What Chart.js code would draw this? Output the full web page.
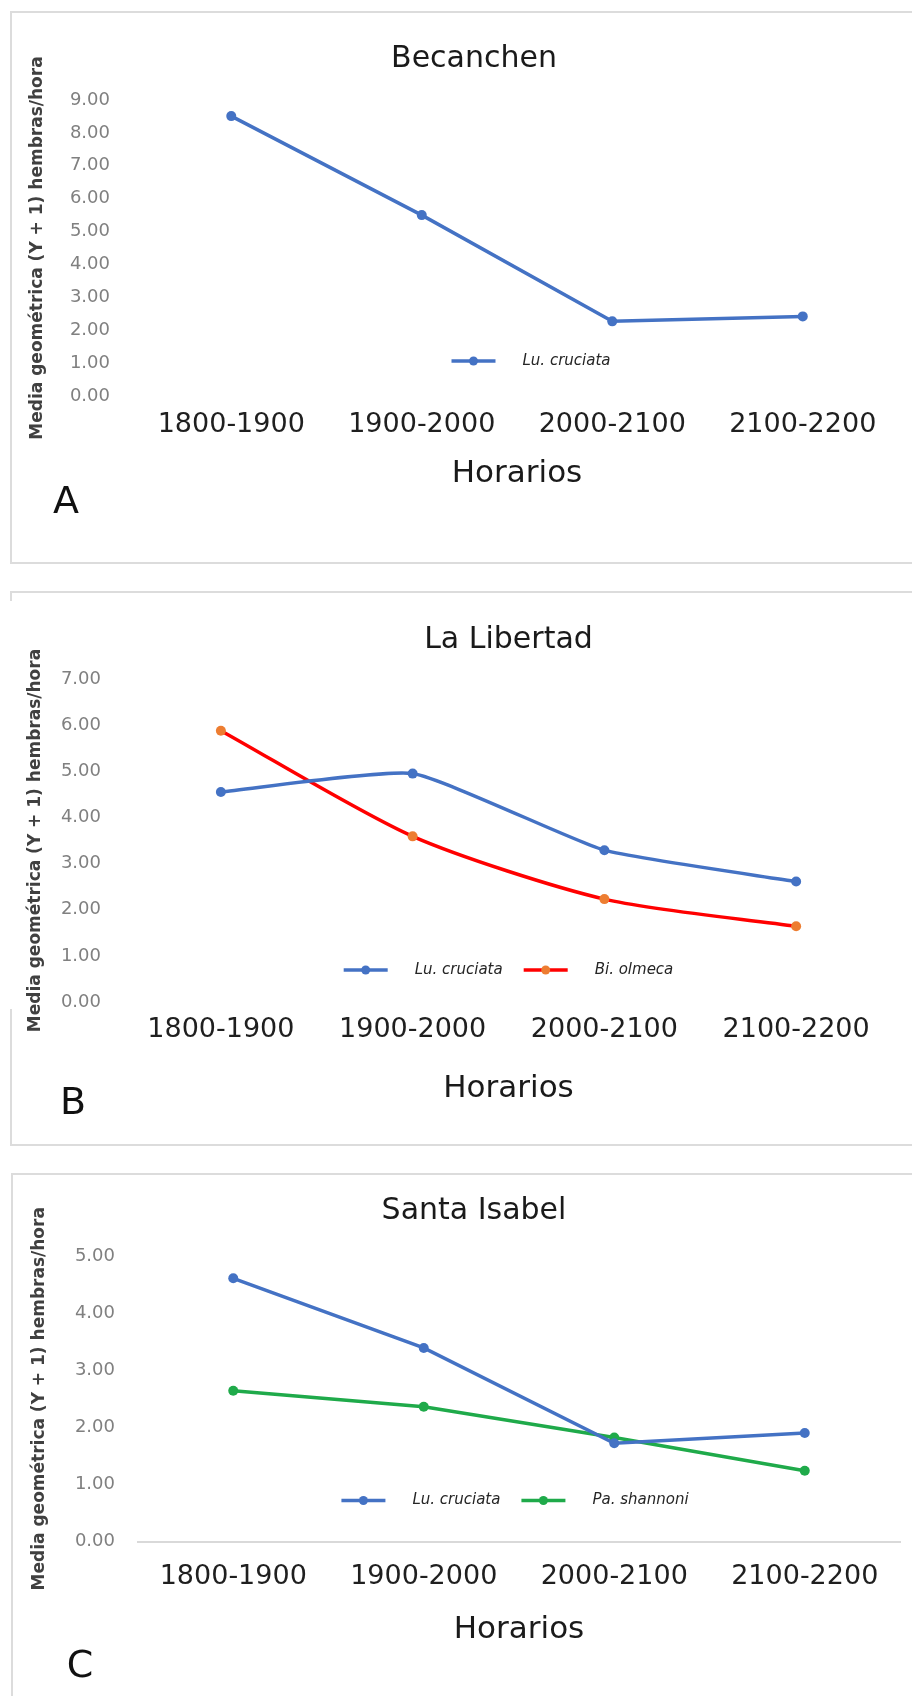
<!DOCTYPE html>
<html lang="es">
<head>
<meta charset="utf-8">
<title>Media geométrica por horario</title>
<script src="https://cdn.jsdelivr.net/npm/chart.js@4.4.1/dist/chart.umd.min.js"></script>
<style>
  html, body { margin: 0; padding: 0; background: #fff; }
  #page { position: relative; width: 912px; height: 1696px; overflow: hidden; font-family: "DejaVu Sans", sans-serif; }
  .box { position: absolute; border: 2px solid #dcdcdc; border-right: none; }
  .edge { position: absolute; width: 2px; background: #dcdcdc; }
  canvas { position: absolute; left: 0; }
  .tag { position: absolute; font-size: 38px; line-height: 1; color: #111; transform: translate(-50%, -50%); }
</style>
</head>
<body>
<div id="page">
  <div class="box" style="left:10px; top:11px; width:902px; height:549px;"></div>
  <div class="box" style="left:10px; top:591px; width:902px; height:551px; border-left:none;"></div>
  <div class="edge" style="left:10px; top:591px; height:10px;"></div>
  <div class="edge" style="left:10px; top:1009px; height:135px;"></div>
  <div class="box" style="left:11px; top:1173px; width:901px; height:540px; border-bottom:none;"></div>

  <canvas id="chartA" width="912" height="575" style="top:0px"></canvas>
  <canvas id="chartB" width="912" height="580" style="top:575px"></canvas>
  <canvas id="chartC" width="912" height="541" style="top:1155px"></canvas>

  <div class="tag" style="left:66px; top:500px;">A</div>
  <div class="tag" style="left:73px; top:1101px;">B</div>
  <div class="tag" style="left:80px; top:1664px;">C</div>
</div>

<script>
// ===== datos =====
const horarios = ['1800-1900', '1900-2000', '2000-2100', '2100-2200'];

const becanchenLu = [8.51, 5.50, 2.27, 2.42];
const libertadLu = [4.55, 4.95, 3.29, 2.61];
const libertadBi = [5.88, 3.59, 2.23, 1.64];
const isabelLu = [4.61, 3.39, 1.72, 1.90];
const isabelPa = [2.64, 2.36, 1.82, 1.24];

const yMaxA = 9, yMaxB = 7, yMaxC = 5;
const yTitle = 'Media geométrica (Y + 1) hembras/hora';

const FONT = '"DejaVu Sans", sans-serif';
const BLUE = '#4472C4', RED = '#FF0000', ORANGE = '#ED7D31', GREEN = '#1FAA4A';

// legend drawn inside the plot, near the bottom (like the Excel one)
const legendInside = {
  id: 'legendInside',
  afterDatasetsDraw(chart, args, opts) {
    const {ctx, chartArea} = chart;
    const items = chart.data.datasets;
    const lineLen = 44, textGap = 27, itemGap = 21;
    ctx.save();
    ctx.font = 'italic 15px ' + FONT;
    const widths = items.map(ds => lineLen + textGap + ctx.measureText(ds.label).width);
    const total = widths.reduce((a, b) => a + b, 0) + itemGap * (items.length - 1);
    let x = (chartArea.left + chartArea.right) / 2 - total / 2 + (opts.shift || 0);
    const y = chartArea.bottom - opts.lift;
    items.forEach((ds, i) => {
      ctx.strokeStyle = ds.borderColor;
      ctx.lineWidth = 3.5;
      ctx.beginPath();
      ctx.moveTo(x, y);
      ctx.lineTo(x + lineLen, y);
      ctx.stroke();
      ctx.fillStyle = ds.pointBackgroundColor;
      ctx.beginPath();
      ctx.arc(x + lineLen / 2, y, 4.5, 0, Math.PI * 2);
      ctx.fill();
      ctx.fillStyle = '#262626';
      ctx.textAlign = 'left';
      ctx.textBaseline = 'middle';
      ctx.fillText(ds.label, x + lineLen + textGap, y);
      x += widths[i] + itemGap;
    });
    ctx.restore();
  }
};

function serie(label, data, color, pointColor, tension) {
  return {
    label: label,
    data: data,
    borderColor: color,
    backgroundColor: color,
    pointBackgroundColor: pointColor,
    pointBorderWidth: 0,
    pointRadius: 5,
    borderWidth: 3.5,
    tension: tension,
    fill: false
  };
}

function buildChart(id, p) {
  return new Chart(document.getElementById(id), {
    type: 'line',
    data: { labels: horarios, datasets: p.datasets },
    options: {
      responsive: false,
      animation: false,
      layout: { padding: p.pad },
      plugins: {
        legend: { display: false },
        tooltip: { enabled: false },
        title: {
          display: true,
          text: p.title,
          fullSize: p.titleFull,
          color: '#1a1a1a',
          font: { family: FONT, size: 30, weight: 'normal' },
          padding: p.titlePad
        },
        legendInside: p.legend
      },
      scales: {
        x: {
          offset: true,
          grid: { display: false, drawTicks: false },
          border: { display: p.baseline, color: '#d9d9d9', width: 2 },
          ticks: {
            color: '#1f1f1f',
            font: { family: FONT, size: 27 },
            padding: p.xTickPad,
            maxRotation: 0,
            autoSkip: false
          },
          title: {
            display: true,
            text: 'Horarios',
            color: '#1a1a1a',
            font: { family: FONT, size: 31 },
            padding: 0
          },
          afterFit: s => { s.height = p.xHeight; }
        },
        y: {
          min: 0,
          max: p.yMax,
          grid: { display: false, drawTicks: false },
          border: { display: false },
          ticks: {
            stepSize: 1,
            autoSkip: false,
            color: '#808080',
            font: { family: FONT, size: 18 },
            padding: p.yTickPad,
            callback: v => v.toFixed(2)
          },
          title: {
            display: true,
            text: yTitle,
            color: '#404040',
            font: { family: FONT, size: 17, weight: 'bold' },
            padding: { top: p.yTitlePad, bottom: 0 }
          },
          afterFit: s => { s.width = p.yWidth; }
        }
      }
    },
    plugins: [legendInside]
  });
}

// A - Becanchen
buildChart('chartA', {
  title: 'Becanchen',
  titleFull: true,
  datasets: [serie('Lu. cruciata', becanchenLu, BLUE, BLUE, 0)],
  yMax: yMaxA,
  pad: { top: 0, left: 50, right: 14, bottom: 82.4 },
  titlePad: { top: 41, bottom: 23 },
  xTickPad: 13, xHeight: 96.6,
  yWidth: 86, yTickPad: 26, yTitlePad: -22.2,
  baseline: false,
  legend: { lift: 35, shift: 14 }
});

// B - La Libertad
buildChart('chartB', {
  title: 'La Libertad',
  titleFull: false,
  datasets: [
    serie('Lu. cruciata', libertadLu, BLUE, BLUE, 0.15),
    serie('Bi. olmeca', libertadBi, RED, ORANGE, 0.25)
  ],
  yMax: yMaxB,
  pad: { top: 0, left: 0, right: 20, bottom: 47.4 },
  titlePad: { top: 47, bottom: 21 },
  xTickPad: 11.8, xHeight: 105.6,
  yWidth: 125, yTickPad: 24, yTitlePad: 25.8,
  baseline: false,
  legend: { lift: 32, shift: 0 }
});

// C - Santa Isabel
buildChart('chartC', {
  title: 'Santa Isabel',
  titleFull: true,
  datasets: [
    serie('Lu. cruciata', isabelLu, BLUE, BLUE, 0),
    serie('Pa. shannoni', isabelPa, GREEN, GREEN, 0)
  ],
  yMax: yMaxC,
  pad: { top: 0, left: 48, right: 12, bottom: 47.4 },
  titlePad: { top: 38, bottom: 27 },
  xTickPad: 19.3, xHeight: 107.1,
  yWidth: 90, yTickPad: 23, yTitlePad: -18.7,
  baseline: true,
  legend: { lift: 41, shift: -4 }
});
</script>
</body>
</html>
